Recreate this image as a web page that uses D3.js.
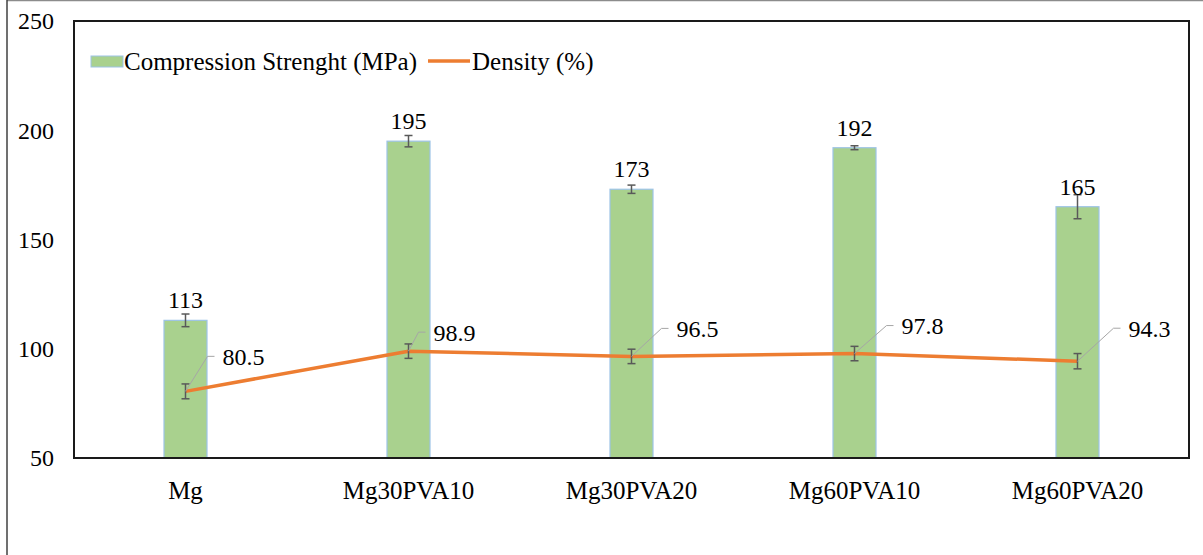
<!DOCTYPE html>
<html><head><meta charset="utf-8">
<script src="https://cdn.jsdelivr.net/npm/d3@7"></script>
<style>
html,body{margin:0;padding:0;background:#fff;}
svg{display:block;}
</style></head>
<body>
<svg id="chart" width="1203" height="555"></svg>
<script>
const categories = ["Mg","Mg30PVA10","Mg30PVA20","Mg60PVA10","Mg60PVA20"];
const strength = [113,195,173,192,165];
const strengthErr = [2.9,2.6,1.9,0.9,5.5];
const density = [80.5,98.9,96.5,97.8,94.3];
const densityErr = [3.4,3.3,3.3,3.3,3.5];
const yTicks = [50,100,150,200,250];
// label offsets for density labels (text left, text centre) relative to point
const densityLabelOffset = [[37,-35],[25,-19],[45,-28],[47,-28],[51,-33]];

const FONT = "Liberation Serif";
const svg = d3.select("#chart");
const L=74,R=1189,T=21,B=458;
const x = d3.scaleBand().domain(categories).range([L,R]).padding(0);
const y = d3.scaleLinear().domain([50,250]).range([B,T]);
const barW = 43;
const FS = 24, FSL = 25;

// outer border
svg.append("line").attr("x1",7).attr("x2",1203).attr("y1",0.5).attr("y2",0.5).attr("stroke","#8c8c8c").attr("stroke-width",1.5);
svg.append("line").attr("x1",7).attr("x2",7).attr("y1",0).attr("y2",555).attr("stroke","#404040").attr("stroke-width",1.5);

// y tick labels
svg.append("g").selectAll("text").data(yTicks).join("text")
  .attr("font-family",FONT)
  .attr("x",54).attr("y",d=>y(d)).attr("dy","0.35em")
  .attr("text-anchor","end").attr("font-size",FS).text(d=>d);

// bars
const cx = d=>x(d)+x.bandwidth()/2;
svg.append("g").selectAll("rect").data(categories).join("rect")
  .attr("x",(d)=>cx(d)-barW/2).attr("width",barW)
  .attr("y",(d,i)=>y(strength[i])).attr("height",(d,i)=>B-y(strength[i]))
  .attr("fill","#a9d18e").attr("stroke","#9dc3e6").attr("stroke-width",1.2);

// error bars helper
function errBars(vals, errs){
  const g = svg.append("g").attr("stroke","#595959").attr("stroke-width",1.5);
  categories.forEach((c,i)=>{
    const px=cx(c), y1=y(vals[i]+errs[i]), y2=y(vals[i]-errs[i]);
    g.append("line").attr("x1",px).attr("x2",px).attr("y1",y1).attr("y2",y2);
    g.append("line").attr("x1",px-4).attr("x2",px+4).attr("y1",y1).attr("y2",y1);
    g.append("line").attr("x1",px-4).attr("x2",px+4).attr("y1",y2).attr("y2",y2);
  });
}
errBars(strength, strengthErr);

// density line
const line = d3.line().x((d,i)=>cx(categories[i])).y(d=>y(d));
svg.append("path").datum(density).attr("d",line)
  .attr("fill","none").attr("stroke","#ed7d31").attr("stroke-width",3.5).attr("stroke-linejoin","round");
errBars(density, densityErr);

// bar value labels
svg.append("g").selectAll("text").data(categories).join("text")
  .attr("font-family",FONT)
  .attr("x",d=>cx(d)).attr("y",(d,i)=>y(strength[i])-12)
  .attr("text-anchor","middle").attr("font-size",FS).text((d,i)=>strength[i]);

// density labels with leader lines
categories.forEach((c,i)=>{
  const px=cx(c), py=y(density[i]);
  const [dx,dy]=densityLabelOffset[i];
  const tx=px+dx, ty=py+dy;
  svg.append("polyline")
    .attr("points",`${px},${py} ${tx-15},${ty} ${tx-8},${ty}`)
    .attr("fill","none").attr("stroke","#a6a6a6").attr("stroke-width",1);
  svg.append("text").attr("font-family",FONT).attr("x",tx).attr("y",ty).attr("dy","0.35em")
    .attr("font-size",FS).text(density[i].toFixed(1));
});

// plot frame
svg.append("rect").attr("x",L).attr("y",T).attr("width",R-L).attr("height",B-T)
  .attr("fill","none").attr("stroke","#1a1a1a").attr("stroke-width",2);

// x labels
svg.append("g").selectAll("text").data(categories).join("text")
  .attr("font-family",FONT)
  .attr("x",d=>cx(d)).attr("y",490).attr("dy","0.35em")
  .attr("text-anchor","middle").attr("font-size",FSL).text(d=>d);

// legend
const lg = svg.append("g");
lg.append("rect").attr("x",91).attr("y",56).attr("width",32).attr("height",11)
  .attr("fill","#a9d18e").attr("stroke","#9dc3e6").attr("stroke-width",1);
lg.append("text").attr("font-family",FONT).attr("x",124).attr("y",61).attr("dy","0.35em").attr("font-size",FSL).text("Compression Strenght (MPa)");
lg.append("line").attr("x1",428).attr("x2",470).attr("y1",61).attr("y2",61)
  .attr("stroke","#ed7d31").attr("stroke-width",3.5);
lg.append("text").attr("font-family",FONT).attr("x",472).attr("y",61).attr("dy","0.35em").attr("font-size",FSL).text("Density (%)");
</script>
</body></html>
